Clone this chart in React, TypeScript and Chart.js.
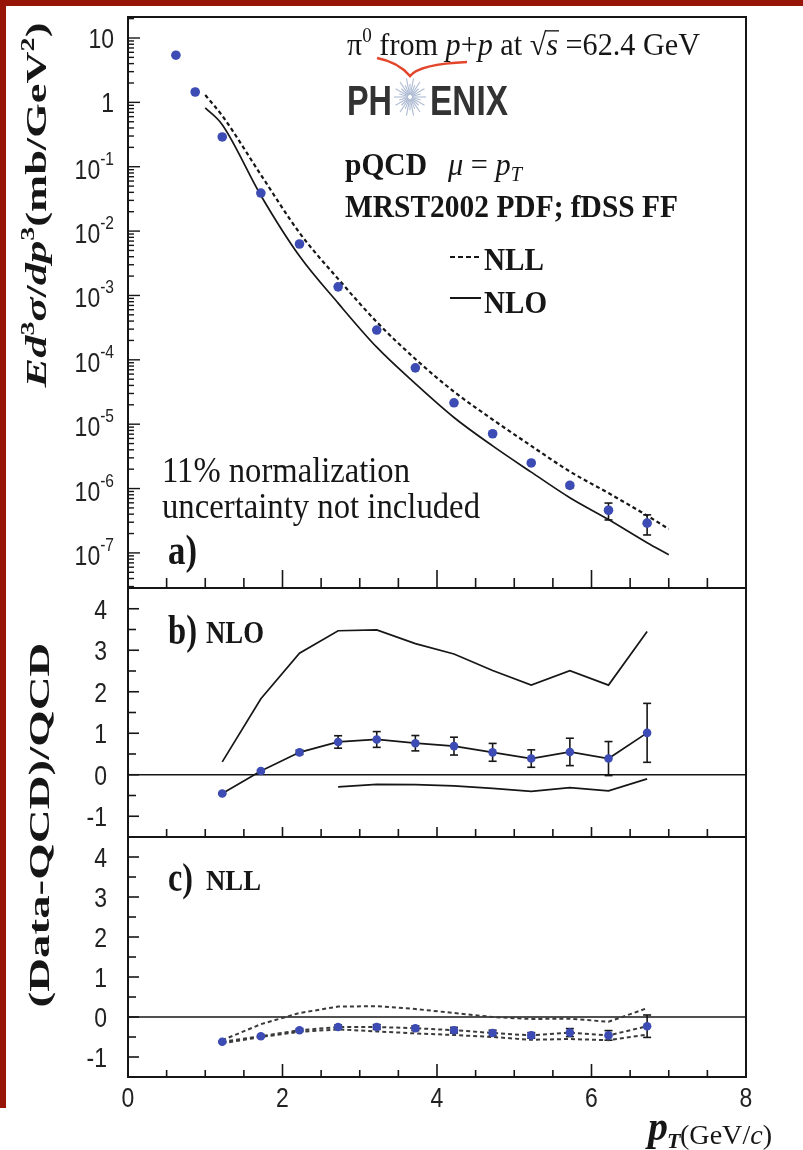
import React, { useEffect, useRef } from "react";
import { Chart, registerables } from "chart.js";

Chart.register(...registerables);

// ---- page and pad geometry (pixels) ----
const PAGE_W = 803;
const PAGE_H = 1150;
const PAD_LEFT = 128;
const PAD_RIGHT = 746;
const PAD_A = { top: 17, bottom: 588 };
const PAD_B = { top: 588, bottom: 837 };
const PAD_C = { top: 837, bottom: 1077 };

// ---- axes ----
const X_MIN = 0;
const X_MAX = 8;
const X_TICK_VALUES = [0, 2, 4, 6, 8];
const X_TICK_LABELS = ["0", "2", "4", "6", "8"];
const SIGMA_MIN = 2.85e-8;
const SIGMA_MAX = 21.2;
const SIGMA_DECADES = [1, 0, -1, -2, -3, -4, -5, -6, -7];
const RATIO_MIN = -1.5;
const RATIO_MAX = 4.5;
const RATIO_TICK_VALUES = [4, 3, 2, 1, 0, -1];
const RATIO_TICK_LABELS = ["4", "3", "2", "1", "0", "-1"];

// ---- a) invariant cross section, mb/GeV^2 ----
const ptSpectrum = [0.62, 0.87, 1.22, 1.72, 2.22, 2.72, 3.22, 3.72, 4.22, 4.72, 5.22, 5.72, 6.22, 6.72];
const sigma = [5.4, 1.45, 0.29, 0.039, 6.3e-3, 1.36e-3, 2.9e-4, 7.5e-5, 2.15e-5, 7.1e-6, 2.5e-6, 1.12e-6, 4.6e-7, 2.9e-7];
const sigmaErr = [0, 0, 0, 0, 0, 0, 0, 0, 0, 0, 0, 0.9e-7, 1.35e-7, 1.0e-7];
const ptTheory = [1.0, 1.22, 1.72, 2.22, 2.72, 3.22, 3.72, 4.22, 4.72, 5.22, 5.72, 6.22, 6.72, 7.0];
const sigmaNLO = [0.82, 0.45, 0.0358, 4.09e-3, 7.6e-4, 1.57e-4, 4.26e-5, 1.27e-5, 4.6e-6, 1.8e-6, 7.2e-7, 3.3e-7, 1.44e-7, 9.4e-8];
const sigmaNLL = [1.3, 0.62, 0.075, 9.4e-3, 1.81e-3, 3.87e-4, 1.03e-4, 3.2e-5, 1.18e-5, 4.6e-6, 1.84e-6, 8.5e-7, 3.8e-7, 2.35e-7];

// ---- b) (Data-NLO)/NLO ----
const ptRatio = [1.22, 1.72, 2.22, 2.72, 3.22, 3.72, 4.22, 4.72, 5.22, 5.72, 6.22, 6.72];
const ratioNLO = [-0.45, 0.09, 0.54, 0.79, 0.85, 0.76, 0.69, 0.54, 0.39, 0.55, 0.39, 1.01];
const ratioNLOErr = [0.02, 0.03, 0.05, 0.15, 0.19, 0.185, 0.215, 0.215, 0.21, 0.33, 0.41, 0.71];
const nloUpper = [0.31, 1.83, 2.93, 3.47, 3.49, 3.16, 2.91, 2.51, 2.16, 2.51, 2.16, 3.45];
const ptNloLower = [2.72, 3.22, 3.72, 4.22, 4.72, 5.22, 5.72, 6.22, 6.72];
const nloLower = [-0.29, -0.23, -0.24, -0.27, -0.33, -0.40, -0.31, -0.39, -0.10];

// ---- c) (Data-NLL)/NLL ----
const ratioNLL = [-0.62, -0.48, -0.33, -0.25, -0.25, -0.28, -0.33, -0.40, -0.46, -0.39, -0.46, -0.23];
const ratioNLLErr = [0.01, 0.02, 0.03, 0.05, 0.06, 0.06, 0.07, 0.07, 0.07, 0.1, 0.12, 0.28];
const nllUpper = [-0.58, -0.18, 0.10, 0.26, 0.27, 0.20, 0.10, 0.0, -0.05, -0.04, -0.12, 0.22];
const nllLower = [-0.66, -0.50, -0.37, -0.31, -0.36, -0.41, -0.45, -0.50, -0.57, -0.55, -0.58, -0.44];

// ---- styling ----
const SERIF = '"Liberation Serif", "DejaVu Serif", serif';
const SANS = '"Liberation Sans", "DejaVu Sans", sans-serif';
const INK = "#161616";
const MARKER = "#3c4cb4";
const BORDER_RED = "#961507";
const LABEL_SX = 0.82;

const serif = (size: number, style = "") => `${style} ${size}px ${SERIF}`.trim();
const sans = (size: number, style = "") => `${style} ${size}px ${SANS}`.trim();
const LBL = sans(28);
const LBL_SUP = sans(19);

type Run = { t: string; font: string; dy?: number; overline?: number };
type RunOpts = { align?: "left" | "center" | "right"; width?: number; sx?: number; sy?: number; color?: string };

function runsWidth(ctx: CanvasRenderingContext2D, runs: Run[]) {
  let w = 0;
  for (const r of runs) {
    ctx.font = r.font;
    w += ctx.measureText(r.t).width;
  }
  return w;
}

function drawRuns(ctx: CanvasRenderingContext2D, runs: Run[], x: number, y: number, opts: RunOpts = {}) {
  ctx.save();
  const natural = runsWidth(ctx, runs);
  const sx = opts.width ? opts.width / natural : opts.sx ?? 1;
  const sy = opts.sy ?? 1;
  const total = natural * sx;
  const x0 = opts.align === "right" ? x - total : opts.align === "center" ? x - total / 2 : x;
  ctx.translate(x0, y);
  ctx.scale(sx, sy);
  ctx.fillStyle = opts.color ?? INK;
  ctx.strokeStyle = opts.color ?? INK;
  ctx.textAlign = "left";
  ctx.textBaseline = "alphabetic";
  let cx = 0;
  for (const r of runs) {
    ctx.font = r.font;
    const w = ctx.measureText(r.t).width;
    ctx.fillText(r.t, cx, r.dy ?? 0);
    if (r.overline !== undefined) {
      ctx.lineWidth = 1.3;
      ctx.beginPath();
      ctx.moveTo(cx - 1, r.overline);
      ctx.lineTo(cx + w + 1, r.overline);
      ctx.stroke();
    }
    cx += w;
  }
  ctx.restore();
}

function drawRotated(ctx: CanvasRenderingContext2D, runs: Run[], baseX: number, centerY: number, length: number) {
  ctx.save();
  ctx.translate(baseX, centerY);
  ctx.rotate(-Math.PI / 2);
  drawRuns(ctx, runs, 0, 0, { align: "center", width: length });
  ctx.restore();
}

function line(ctx: CanvasRenderingContext2D, x1: number, y1: number, x2: number, y2: number) {
  ctx.beginPath();
  ctx.moveTo(x1, y1);
  ctx.lineTo(x2, y2);
  ctx.stroke();
}

function drawFrame(chart: any) {
  const { ctx, chartArea: a } = chart;
  ctx.save();
  ctx.strokeStyle = INK;
  ctx.lineWidth = 2;
  ctx.strokeRect(a.left, a.top, a.right - a.left, a.bottom - a.top);
  ctx.restore();
}

function drawXTicks(chart: any, majorLen: number, minorLen: number) {
  const { ctx, chartArea: a } = chart;
  const xs = chart.scales.x;
  ctx.save();
  ctx.strokeStyle = INK;
  ctx.lineWidth = 1.6;
  for (let k = 1; k < 16; k++) {
    const v = k * 0.5;
    const px = xs.getPixelForValue(v);
    const len = v % 2 === 0 ? majorLen : minorLen;
    line(ctx, px, a.bottom, px, a.bottom - len);
  }
  ctx.restore();
}

function drawRatioAxis(chart: any) {
  const { ctx, chartArea: a } = chart;
  const ys = chart.scales.y;
  ctx.save();
  ctx.strokeStyle = INK;
  ctx.lineWidth = 1.6;
  for (let v = -1; v <= 4.001; v += 0.5) {
    const py = ys.getPixelForValue(v);
    line(ctx, a.left, py, a.left + (Number.isInteger(v) ? 11 : 8), py);
  }
  ctx.restore();
  RATIO_TICK_VALUES.forEach((v, i) => {
    const py = ys.getPixelForValue(v);
    drawRuns(ctx, [{ t: RATIO_TICK_LABELS[i], font: LBL }], 107, py + 10, { align: "right", sx: LABEL_SX, color: "#222" });
  });
}

function drawZeroLine(chart: any) {
  const { ctx, chartArea: a } = chart;
  const py = chart.scales.y.getPixelForValue(0);
  ctx.save();
  ctx.strokeStyle = INK;
  ctx.lineWidth = 1.6;
  line(ctx, a.left, py, a.right, py);
  ctx.restore();
}

function drawErrorBars(chart: any, xv: number[], yv: number[], ev: number[], cap: number) {
  const { ctx } = chart;
  const xs = chart.scales.x;
  const ys = chart.scales.y;
  ctx.save();
  ctx.strokeStyle = INK;
  ctx.lineWidth = 1.6;
  xv.forEach((x, i) => {
    if (!(ev[i] > 0)) return;
    const px = xs.getPixelForValue(x);
    const lowVal = yv[i] - ev[i];
    const top = ys.getPixelForValue(yv[i] + ev[i]);
    const bot = ys.getPixelForValue(lowVal > ys.min ? lowVal : ys.min);
    line(ctx, px, top, px, bot);
    line(ctx, px - cap / 2, top, px + cap / 2, top);
    line(ctx, px - cap / 2, bot, px + cap / 2, bot);
  });
  ctx.restore();
}

function drawStarburst(ctx: CanvasRenderingContext2D, cx: number, cy: number) {
  ctx.save();
  ctx.strokeStyle = "#aebbd3";
  ctx.lineWidth = 1.1;
  for (let k = 0; k < 28; k++) {
    const ang = (k / 28) * Math.PI * 2;
    const r = k % 2 === 0 ? 16 : 11;
    line(ctx, cx + Math.cos(ang) * 2, cy + Math.sin(ang) * 2.4, cx + Math.cos(ang) * r, cy + Math.sin(ang) * r * 1.2);
  }
  ctx.restore();
}

// ---- pad a): spectrum ----
const spectrumPlugin = {
  id: "spectrumPad",
  beforeDatasetsDraw(chart: any) {
    drawErrorBars(chart, ptSpectrum, sigma, sigmaErr, 8);
  },
  afterDraw(chart: any) {
    const { ctx, chartArea: a } = chart;
    const ys = chart.scales.y;
    drawFrame(chart);
    drawXTicks(chart, 18, 10);

    // logarithmic y ticks
    ctx.save();
    ctx.strokeStyle = INK;
    ctx.lineWidth = 1.4;
    for (let e = -8; e <= 1; e++) {
      for (let m = 1; m <= 9; m++) {
        const v = m * Math.pow(10, e);
        if (v < ys.min || v > ys.max) continue;
        const py = ys.getPixelForValue(v);
        line(ctx, a.left, py, a.left + (m === 1 ? 12 : 6), py);
      }
    }
    ctx.restore();
    SIGMA_DECADES.forEach((e) => {
      const py = ys.getPixelForValue(Math.pow(10, e));
      if (e === 1) drawRuns(ctx, [{ t: "10", font: LBL }], 114, py + 10, { align: "right", sx: LABEL_SX, color: "#222" });
      else if (e === 0) drawRuns(ctx, [{ t: "1", font: LBL }], 114, py + 10, { align: "right", sx: LABEL_SX, color: "#222" });
      else
        drawRuns(ctx, [{ t: "10", font: LBL }, { t: String(e), font: LBL_SUP, dy: -14 }], 114, py + 12, {
          align: "right",
          sx: LABEL_SX,
          color: "#222",
        });
    });

    // y title
    drawRotated(
      ctx,
      [
        { t: "Ed", font: serif(30, "italic bold") },
        { t: "3", font: serif(19, "bold"), dy: -12 },
        { t: "σ", font: serif(30, "italic bold") },
        { t: "/", font: serif(30, "bold") },
        { t: "dp", font: serif(30, "italic bold") },
        { t: "3", font: serif(19, "bold"), dy: -12 },
        { t: "(mb/GeV", font: serif(30, "bold") },
        { t: "2", font: serif(19, "bold"), dy: -12 },
        { t: ")", font: serif(30, "bold") },
      ],
      46,
      205,
      365
    );

    // header text
    drawRuns(
      ctx,
      [
        { t: "π", font: serif(30) },
        { t: "0", font: serif(19), dy: -12 },
        { t: " from ", font: serif(30) },
        { t: "p", font: serif(30, "italic") },
        { t: "+", font: serif(30) },
        { t: "p", font: serif(30, "italic") },
        { t: " at ", font: serif(30) },
        { t: "√", font: serif(30) },
        { t: "s", font: serif(30, "italic"), overline: -23 },
        { t: " =62.4 GeV", font: serif(30) },
      ],
      347,
      55,
      { width: 353, sy: 1.05 }
    );

    // red swoosh of the logo
    ctx.save();
    ctx.strokeStyle = "#e2462c";
    ctx.lineWidth = 2.6;
    ctx.beginPath();
    ctx.moveTo(377, 58);
    ctx.quadraticCurveTo(398, 62, 410, 76);
    ctx.quadraticCurveTo(420, 64, 467, 62);
    ctx.stroke();
    ctx.restore();

    drawRuns(ctx, [{ t: "PH", font: sans(42, "bold") }], 347, 115, { width: 45, color: "#333" });
    drawStarburst(ctx, 410, 97);
    drawRuns(ctx, [{ t: "ENIX", font: sans(42, "bold") }], 430, 115, { width: 78, color: "#333" });

    drawRuns(ctx, [{ t: "pQCD", font: serif(30, "bold") }], 345, 175, { width: 82, sy: 1.08 });
    drawRuns(
      ctx,
      [
        { t: "μ", font: serif(30, "italic") },
        { t: " = ", font: serif(30) },
        { t: "p", font: serif(30, "italic") },
        { t: "T", font: serif(20, "italic"), dy: 6 },
      ],
      448,
      175,
      { width: 74, sy: 1.05 }
    );
    drawRuns(ctx, [{ t: "MRST2002 PDF; fDSS FF", font: serif(30, "bold") }], 345, 217, { width: 333, sy: 1.08 });

    // legend
    ctx.save();
    ctx.strokeStyle = INK;
    ctx.lineWidth = 2;
    ctx.setLineDash([5, 3]);
    line(ctx, 450, 257, 482, 257);
    ctx.setLineDash([]);
    line(ctx, 450, 298, 481, 298);
    ctx.restore();
    drawRuns(ctx, [{ t: "NLL", font: serif(30, "bold") }], 484, 270, { width: 60, sy: 1.08 });
    drawRuns(ctx, [{ t: "NLO", font: serif(30, "bold") }], 484, 313, { width: 63, sy: 1.08 });

    drawRuns(ctx, [{ t: "11% normalization", font: serif(34) }], 162, 482, { width: 248, sy: 1.08 });
    drawRuns(ctx, [{ t: "uncertainty not included", font: serif(34) }], 162, 518, { width: 318, sy: 1.08 });
    drawRuns(ctx, [{ t: "a)", font: serif(36, "bold") }], 168, 564, { width: 29, sy: 1.2 });
  },
};

// ---- pad b): ratio to NLO ----
const nloPlugin = {
  id: "nloPad",
  beforeDatasetsDraw(chart: any) {
    drawZeroLine(chart);
    drawErrorBars(chart, ptRatio, ratioNLO, ratioNLOErr, 8);
  },
  afterDraw(chart: any) {
    const { ctx } = chart;
    drawFrame(chart);
    drawXTicks(chart, 10, 8);
    drawRatioAxis(chart);
    drawRuns(ctx, [{ t: "b)", font: serif(36, "bold") }], 168, 644, { width: 29, sy: 1.2 });
    drawRuns(ctx, [{ t: "NLO", font: serif(28, "bold") }], 206, 643, { width: 58, sy: 1.1 });
  },
};

// ---- pad c): ratio to NLL, shared x axis ----
const nllPlugin = {
  id: "nllPad",
  beforeDatasetsDraw(chart: any) {
    drawZeroLine(chart);
    drawErrorBars(chart, ptRatio, ratioNLL, ratioNLLErr, 8);
  },
  afterDraw(chart: any) {
    const { ctx } = chart;
    const xs = chart.scales.x;
    drawFrame(chart);
    drawXTicks(chart, 13, 7);
    drawRatioAxis(chart);
    drawRuns(ctx, [{ t: "c)", font: serif(34, "bold") }], 168, 891, { width: 25, sy: 1.2 });
    drawRuns(ctx, [{ t: "NLL", font: serif(27, "bold") }], 206, 890, { width: 55, sy: 1.1 });

    X_TICK_VALUES.forEach((v, i) => {
      drawRuns(ctx, [{ t: X_TICK_LABELS[i], font: LBL }], xs.getPixelForValue(v), 1107, {
        align: "center",
        sx: LABEL_SX,
        color: "#222",
      });
    });
    drawRuns(ctx, [{ t: "p", font: serif(40, "italic bold") }], 648, 1140, { sy: 1.05 });
    drawRuns(ctx, [{ t: "T", font: serif(22, "italic bold") }], 667, 1148, {});
    drawRuns(
      ctx,
      [
        { t: "(GeV/", font: serif(24) },
        { t: "c", font: serif(24, "italic") },
        { t: ")", font: serif(24) },
      ],
      680,
      1144,
      { width: 92, sy: 1.1 }
    );

    drawRotated(ctx, [{ t: "(Data-QCD)/QCD", font: serif(30, "bold") }], 49, 825, 365);
  },
};

const pts = (xs: number[], ys: number[]) => xs.map((x, i) => ({ x, y: ys[i] }));

function baseOptions(pad: { top: number; bottom: number }, yScale: any) {
  return {
    responsive: false,
    maintainAspectRatio: false,
    animation: false as const,
    devicePixelRatio: 1,
    events: [] as any[],
    layout: {
      padding: { left: PAD_LEFT, right: PAGE_W - PAD_RIGHT, top: pad.top, bottom: PAGE_H - pad.bottom },
    },
    plugins: { legend: { display: false }, tooltip: { enabled: false } },
    scales: {
      x: { type: "linear" as const, min: X_MIN, max: X_MAX, display: false },
      y: { ...yScale, display: false },
    },
  };
}

const markers = (data: any, radius: number) => ({
  data,
  showLine: false,
  pointRadius: radius,
  pointBackgroundColor: MARKER,
  pointBorderWidth: 0,
  order: 0,
});

const curve = (data: any, order: number, extra: any = {}) => ({
  data,
  showLine: true,
  pointRadius: 0,
  borderColor: INK,
  borderWidth: 1.7,
  tension: 0,
  fill: false,
  order,
  ...extra,
});

export default function App() {
  const refA = useRef<HTMLCanvasElement>(null);
  const refB = useRef<HTMLCanvasElement>(null);
  const refC = useRef<HTMLCanvasElement>(null);

  useEffect(() => {
    const charts: Chart[] = [];
    if (refA.current) {
      charts.push(
        new Chart(refA.current, {
          type: "line",
          data: {
            datasets: [
              markers(pts(ptSpectrum, sigma), 4.8),
              curve(pts(ptTheory, sigmaNLL), 1, { borderDash: [4, 3], borderWidth: 2.2, cubicInterpolationMode: "monotone" }),
              curve(pts(ptTheory, sigmaNLO), 2, { cubicInterpolationMode: "monotone" }),
            ],
          },
          options: baseOptions(PAD_A, { type: "logarithmic", min: SIGMA_MIN, max: SIGMA_MAX }) as any,
          plugins: [spectrumPlugin],
        })
      );
    }
    if (refB.current) {
      charts.push(
        new Chart(refB.current, {
          type: "line",
          data: {
            datasets: [
              markers(pts(ptRatio, ratioNLO), 4.3),
              curve(pts(ptRatio, ratioNLO), 1),
              curve(pts(ptRatio, nloUpper), 2),
              curve(pts(ptNloLower, nloLower), 3),
            ],
          },
          options: baseOptions(PAD_B, { type: "linear", min: RATIO_MIN, max: RATIO_MAX }) as any,
          plugins: [nloPlugin],
        })
      );
    }
    if (refC.current) {
      const dashed = { borderDash: [4, 3], borderWidth: 2, borderColor: "#3a3a3a" };
      charts.push(
        new Chart(refC.current, {
          type: "line",
          data: {
            datasets: [
              markers(pts(ptRatio, ratioNLL), 4.3),
              curve(pts(ptRatio, ratioNLL), 1, dashed),
              curve(pts(ptRatio, nllUpper), 2, dashed),
              curve(pts(ptRatio, nllLower), 3, dashed),
            ],
          },
          options: baseOptions(PAD_C, { type: "linear", min: RATIO_MIN, max: RATIO_MAX }) as any,
          plugins: [nllPlugin],
        })
      );
    }
    return () => charts.forEach((c) => c.destroy());
  }, []);

  const layer: React.CSSProperties = { position: "absolute", left: 0, top: 0, width: PAGE_W, height: PAGE_H };
  return (
    <div style={{ position: "absolute", left: 0, top: 0, width: PAGE_W, height: PAGE_H, background: "#fff", overflow: "hidden" }}>
      <div style={{ position: "absolute", left: 0, top: 0, width: PAGE_W, height: 6, background: BORDER_RED }} />
      <div style={{ position: "absolute", left: 0, top: 0, width: 6, height: 1108, background: BORDER_RED }} />
      <canvas ref={refA} width={PAGE_W} height={PAGE_H} style={layer} />
      <canvas ref={refB} width={PAGE_W} height={PAGE_H} style={layer} />
      <canvas ref={refC} width={PAGE_W} height={PAGE_H} style={layer} />
    </div>
  );
}
